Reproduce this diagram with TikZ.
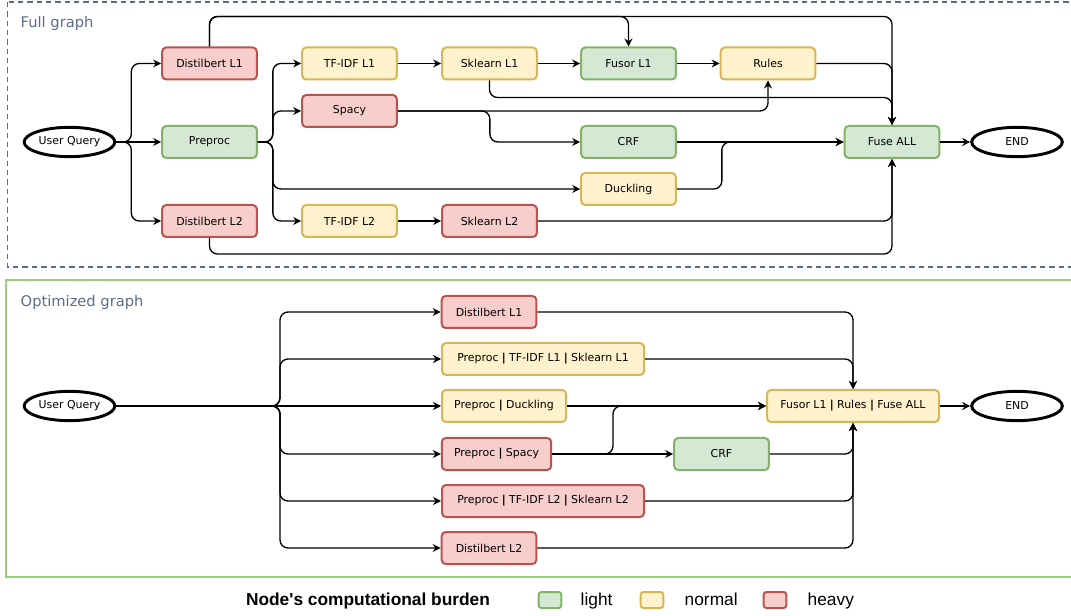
\documentclass[tikz,border=0pt]{standalone}
\usepackage{fontspec}
\setmainfont{DejaVu Sans}
\newfontfamily\legendfont{Liberation Sans}
\usetikzlibrary{arrows.meta,shapes.geometric}

\definecolor{lightfill}{HTML}{D5E8D4}
\definecolor{lightline}{HTML}{82B366}
\definecolor{normalfill}{HTML}{FFF2CC}
\definecolor{normalline}{HTML}{D6B656}
\definecolor{heavyfill}{HTML}{F8CECC}
\definecolor{heavyline}{HTML}{B85450}
\definecolor{slate}{HTML}{5A6C8A}
\definecolor{optgreen}{HTML}{97D077}

\newcommand{\sepbar}{\hspace{2.5pt}\textbf{|}\hspace{2.5pt}}

\begin{document}
\begin{tikzpicture}[x=0.75pt,y=-0.75pt,
    box/.style={rectangle,rounded corners=3pt,line width=1.5pt,minimum width=71pt,minimum height=24pt,font=\fontsize{8.2}{9}\selectfont,inner sep=2pt},
    light/.style={box,draw=lightline,fill=lightfill},
    normal/.style={box,draw=normalline,fill=normalfill},
    heavy/.style={box,draw=heavyline,fill=heavyfill},
    term/.style={ellipse,draw,line width=2.2pt,minimum width=68pt,minimum height=22pt,inner sep=0pt,font=\fontsize{8.2}{9}\selectfont},
    title/.style={anchor=west,text=slate,font=\fontsize{11}{13}\selectfont},
    arr/.style={-{Stealth[length=6pt,width=6pt,inset=2pt]},line width=1pt,rounded corners=6pt},
    swatch/.style={rectangle,rounded corners=2pt,line width=1.5pt,minimum width=17pt,minimum height=12pt,inner sep=0pt}]

      \useasboundingbox (0,0) rectangle (1071,616);

      \draw[slate,dashed,line width=0.8pt,dash pattern=on 4pt off 3pt] (7.5,2) rectangle (1085,267);
      \draw[optgreen,line width=2pt] (6,280) rectangle (1085,577);
      \node[title] (fulltitle) at (16,23) {Full graph};
      \node[title] (opttitle)  at (16,302) {Optimized graph};

      % full graph
      \begin{scope}
        \node[term]   (uq)    at (69.5,142) {User Query};
        \node[heavy]  (dl1)   at (209.5,63.5) {Distilbert L1};
        \node[light]  (pre)   at (209.5,142)  {Preproc};
        \node[heavy]  (dl2)   at (209.5,221)  {Distilbert L2};
        \node[normal] (tf1)   at (349.5,63.5) {TF-IDF L1};
        \node[heavy]  (spacy) at (349.5,111)  {Spacy};
        \node[normal] (tf2)   at (349.5,221)  {TF-IDF L2};
        \node[normal] (sk1)   at (489.5,63.5) {Sklearn L1};
        \node[heavy]  (sk2)   at (489.5,221)  {Sklearn L2};
        \node[light]  (fus)   at (628.5,63.5) {Fusor L1};
        \node[normal] (rules) at (768,63.5)   {Rules};
        \node[light]  (crf)   at (628.5,142)  {CRF};
        \node[normal] (duck)  at (628.5,189)  {Duckling};
        \node[light]  (fuse)  at (892,142)    {Fuse ALL};
        \node[term]   (end)   at (1017,142)   {END};
      \end{scope}

      \begin{scope}[every path/.style={arr}]
        \draw (uq.east) -- ++(15,0) |- (dl1.west);
        \draw (uq) -- (pre);
        \draw (uq.east) -- ++(15,0) |- (dl2.west);
        \draw (pre.east) -- ++(15,0) |- (tf1.west);
        \draw (pre.east) -- ++(15,0) |- (spacy.west);
        \draw (pre.east) -- ++(15,0) |- (duck.west);
        \draw (pre.east) -- ++(15,0) |- (tf2.west);
        \draw (tf1) -- (sk1);
        \draw (sk1) -- (fus);
        \draw (fus) -- (rules);
        \draw (tf2) -- (sk2);
        \draw (dl1.north) -- ++(0,-30) -| (fus.north);
        \draw (dl1.north) -- ++(0,-30) -| (fuse.north);
        \draw (rules.east) -| (fuse.north);
        \draw (sk1.south) -- ++(0,17) -| (fuse.north);
        \draw (spacy.east) -| (rules.south);
        \draw (spacy.east) -- ++(92,0) |- (crf.west);
        \draw (crf) -- (fuse);
        \draw (duck.east) -- ++(45,0) |- (fuse.west);
        \draw (sk2.east) -| (fuse.south);
        \draw (dl2.south) -- ++(0,16) -| (fuse.south);
        \draw (fuse) -- (end);
      \end{scope}

      % optimized graph
      \begin{scope}
        \node[term]   (uq2)  at (69.5,406) {User Query};
        \node[heavy]  (odl1) at (489,312) {Distilbert L1};
        \node[normal,minimum width=151.5pt] (op1) at (543,359) {Preproc\sepbar TF-IDF L1\sepbar Sklearn L1};
        \node[normal,minimum width=93pt]    (op2) at (504,406) {Preproc\sepbar Duckling};
        \node[heavy,minimum width=82pt]     (op3) at (496.5,454) {Preproc\sepbar Spacy};
        \node[heavy,minimum width=151.5pt]  (op4) at (543,501) {Preproc\sepbar TF-IDF L2\sepbar Sklearn L2};
        \node[heavy]  (odl2) at (489,548) {Distilbert L2};
        \node[light]  (crf2) at (721.5,454) {CRF};
        \node[normal,minimum width=129pt] (fall) at (853,406) {Fusor L1\sepbar Rules\sepbar Fuse ALL};
        \node[term]   (end2) at (1017,406) {END};
      \end{scope}

      \begin{scope}[every path/.style={arr}]
        \draw (uq2.east) -- (280,406) |- (odl1.west);
        \draw (uq2.east) -- (280,406) |- (op1.west);
        \draw (uq2) -- (op2);
        \draw (uq2.east) -- (280,406) |- (op3.west);
        \draw (uq2.east) -- (280,406) |- (op4.west);
        \draw (uq2.east) -- (280,406) |- (odl2.west);
        \draw (odl1.east) -| (fall.north);
        \draw (op1.east) -| (fall.north);
        \draw (op2) -- (fall);
        \draw (op3) -- (crf2);
        \draw (op3.east) -- (613,454) |- (fall.west);
        \draw (crf2.east) -| (fall.south);
        \draw (op4.east) -| (fall.south);
        \draw (odl2.east) -| (fall.south);
        \draw (fall) -- (end2);
      \end{scope}

      % legend
      \begin{scope}[every node/.style={font=\legendfont\fontsize{13}{15}\selectfont}]
        \node[anchor=base] (legend) at (368,605) {\textbf{Node's computational burden}};
        \node[swatch,draw=lightline,fill=lightfill]   (swlight)  at (550,600) {};
        \node[swatch,draw=normalline,fill=normalfill] (swnormal) at (652,600) {};
        \node[swatch,draw=heavyline,fill=heavyfill]   (swheavy)  at (775,600) {};
        \node[anchor=base west] (txlight)  at (576,605) {light};
        \node[anchor=base west] (txnormal) at (680,605) {normal};
        \node[anchor=base west] (txheavy)  at (803,605) {heavy};
      \end{scope}

    \end{tikzpicture}
\end{document}
